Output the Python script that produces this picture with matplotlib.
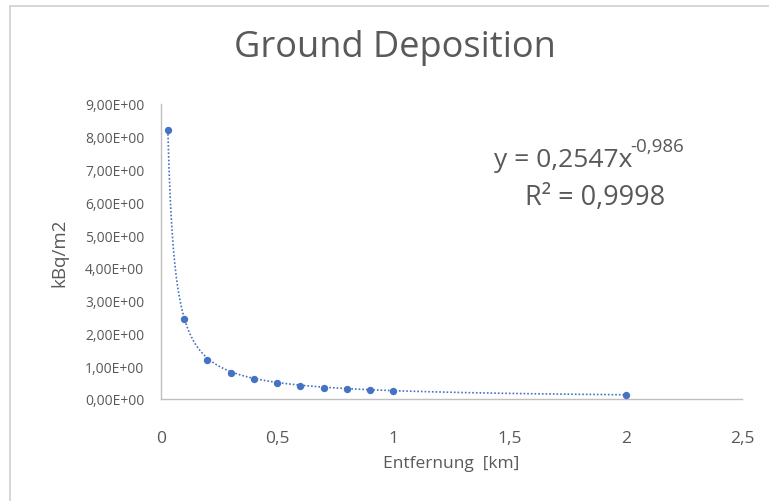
import matplotlib
matplotlib.use("Agg")
import matplotlib.pyplot as plt
import numpy as np
from matplotlib.patches import Rectangle
from matplotlib.ticker import FuncFormatter

plt.rcParams['font.family'] = ['Open Sans', 'DejaVu Sans']

distance_km = [0.03, 0.1, 0.2, 0.3, 0.4, 0.5, 0.6, 0.7, 0.8, 0.9, 1.0, 2.0]
deposition = [8.2, 2.45, 1.18, 0.80, 0.61, 0.49, 0.41, 0.34, 0.31, 0.26, 0.25, 0.12]
fit_a = 0.2547
fit_b = -0.986
r2 = 0.9998

blue = '#4472C4'
gray = '#595959'

fig = plt.figure(figsize=(7.69, 5.02), dpi=100)
W, H = 769, 502
fig.patches.append(Rectangle((10 / W, -0.1), 1.2, (H - 7) / H + 0.1, transform=fig.transFigure,
                             fill=False, edgecolor='#D0D0D0', linewidth=1.2))

ax = fig.add_axes([161 / W, 1 - 400 / H, (742 - 161) / W, (400 - 105) / H])
xs = np.linspace(min(distance_km), max(distance_km), 400)
ax.plot(xs, fit_a * xs ** fit_b, linestyle=(0, (1, 1.2)), color=blue, linewidth=1.2, zorder=2)
ax.scatter(distance_km, deposition, s=28, color=blue, zorder=3, linewidths=0)

ax.set_xlim(0, 2.5)
ax.set_ylim(0, 9)
ax.set_xticks([0, 0.5, 1, 1.5, 2, 2.5])
ax.set_yticks(np.arange(0, 10, 1))
ax.xaxis.set_major_formatter(FuncFormatter(lambda v, p: f"{v:g}".replace('.', ',')))
ax.yaxis.set_major_formatter(FuncFormatter(lambda v, p: f"{v:.2f}".replace('.', ',') + "E+00"))
for s in ['top', 'right']:
    ax.spines[s].set_visible(False)
for s in ['left', 'bottom']:
    ax.spines[s].set_color('#BFBFBF')
    ax.spines[s].set_linewidth(1)
ax.tick_params(axis='both', length=0, colors=gray)
ax.tick_params(axis='x', labelsize=12.5, pad=22)
ax.tick_params(axis='y', labelsize=10, pad=12)

ax.set_xlabel('Entfernung  [km]', fontsize=12.5, color=gray, labelpad=7)
ax.set_ylabel('kBq/m2', fontsize=13.5, color=gray, labelpad=12)

fig.text(395 / W, 1 - 48 / H, 'Ground Deposition', ha='center', va='center', fontsize=26, color=gray)
fig.text(632 / W, 1 - 167 / H, 'y = 0,2547x', ha='right', va='baseline', fontsize=19, color=gray)
fig.text(630 / W, 1 - 152 / H, '-0,986', ha='left', va='baseline', fontsize=13.5, color=gray)
fig.text(595 / W, 1 - 205 / H, 'R² = 0,9998', ha='center', va='baseline', fontsize=19.5, color=gray)

fig.savefig('out.png', dpi=100)
